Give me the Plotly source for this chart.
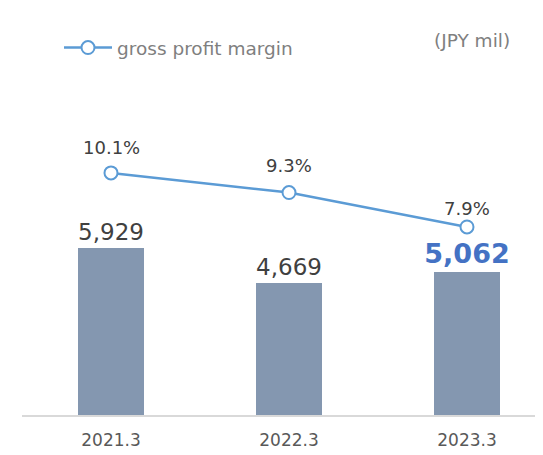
import plotly.graph_objects as go

years = ["2021.3", "2022.3", "2023.3"]
gross_profit = [5929, 4669, 5062]
gross_profit_labels = ["5,929", "4,669", "<b>5,062</b>"]
margin_pct = [10.1, 9.3, 7.9]
margin_labels = ["10.1%", "9.3%", "7.9%"]

xpos = list(range(len(years)))
FONT = "DejaVu Sans"
label_shift = [25, 27, 18]

fig = go.Figure()
fig.add_trace(go.Bar(
    x=xpos, y=gross_profit, width=0.37,
    marker=dict(color="#8497B0", line=dict(width=0)),
    text=gross_profit_labels, textposition="outside", constraintext="none",
    textfont=dict(family=FONT, size=[23, 23, 27], color=["#404040", "#404040", "#4472C4"]),
    cliponaxis=False, showlegend=False,
))
fig.add_trace(go.Scatter(
    x=xpos, y=margin_pct, yaxis="y2", name="gross profit margin",
    mode="lines+markers",
    line=dict(color="#5B9BD5", width=2.5),
    marker=dict(symbol="circle", size=13, color="white", line=dict(color="#5B9BD5", width=2)),
    cliponaxis=False,
))

annotations = [
    dict(text=t, x=xv, y=yv, xref="x", yref="y2", yshift=s, showarrow=False,
         xanchor="center", yanchor="middle",
         font=dict(family=FONT, size=18, color="#404040"))
    for xv, yv, t, s in zip(xpos, margin_pct, margin_labels, label_shift)
]
annotations.append(dict(
    text="(JPY mil)", xref="paper", yref="paper", x=(512 - 22) / 521, y=(415 - 40) / 315,
    xanchor="right", yanchor="middle", showarrow=False,
    font=dict(family=FONT, size=18.5, color="#7F7F7F"),
))

fig.update_layout(
    width=543, height=455,
    margin=dict(l=14, r=8, t=92, b=48, autoexpand=False),
    paper_bgcolor="white", plot_bgcolor="white",
    font=dict(family=FONT),
    bargap=0,
    xaxis=dict(
        range=[-0.5, 2.427], tickmode="array", tickvals=xpos, ticktext=years,
        showgrid=False, zeroline=False, showline=True, linecolor="#D9D9D9", linewidth=1.5,
        ticks="", ticklabelstandoff=9, tickfont=dict(family=FONT, size=17, color="#595959"),
    ),
    yaxis=dict(range=[0, 11182], visible=False, showgrid=False, zeroline=False),
    yaxis2=dict(range=[0.24, 13.07], overlaying="y", visible=False, showgrid=False, zeroline=False),
    legend=dict(
        x=(59 - 22) / 521, y=(415 - 29) / 315, xanchor="left", yanchor="top",
        itemwidth=48,
        font=dict(family=FONT, size=18.5, color="#7F7F7F"), bgcolor="rgba(0,0,0,0)",
    ),
    showlegend=True,
    annotations=annotations,
)

fig.write_html("out.html")
